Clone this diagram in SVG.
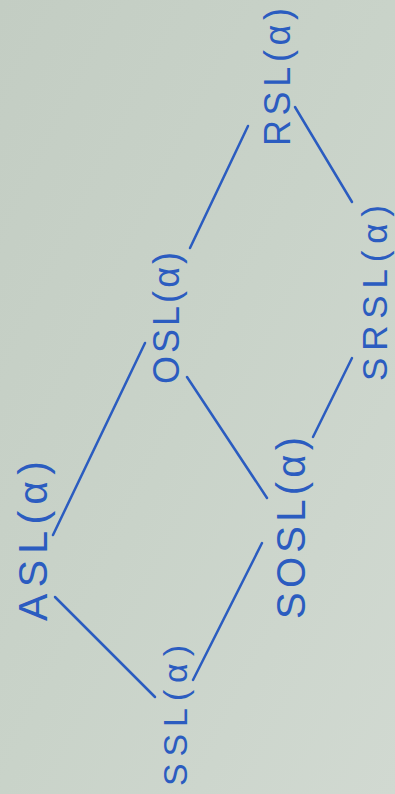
<svg xmlns="http://www.w3.org/2000/svg" width="395" height="794" viewBox="0 0 395 794">
  <defs>
    <linearGradient id="board" x1="0" y1="0" x2="1" y2="1">
      <stop offset="0" stop-color="#c3cdc3"/>
      <stop offset="0.5" stop-color="#c9d3c9"/>
      <stop offset="1" stop-color="#d1d9d1"/>
    </linearGradient>
    <style>
      .lbl { font-family: "Liberation Sans", "DejaVu Sans", sans-serif; fill: #2b5cc0; }
      .edge { stroke: #2b5cc0; stroke-width: 2.5; stroke-linecap: round; fill: none; }
    </style>
  </defs>

  <!-- whiteboard surface -->
  <rect width="395" height="794" fill="url(#board)"/>

  <!-- connectors of the lattice -->
  <g id="connectors">
    <line class="edge" x1="190" y1="248" x2="248" y2="126"/>
    <line class="edge" x1="295" y1="107" x2="352" y2="202"/>
    <line class="edge" x1="145" y1="343" x2="53" y2="535"/>
    <line class="edge" x1="187" y1="377" x2="267" y2="498"/>
    <line class="edge" x1="352" y1="358" x2="313" y2="437"/>
    <line class="edge" x1="55" y1="597" x2="155" y2="697"/>
    <line class="edge" x1="193" y1="680" x2="262" y2="543"/>
  </g>

  <!-- labels, written rotated (reading upwards) -->
  <g id="RSL" transform="translate(290,146) rotate(-90)">
    <text class="lbl" font-size="36" textLength="138" lengthAdjust="spacing">RSL(α)</text>
  </g>
  <g id="OSL" transform="translate(179,384) rotate(-90)">
    <text class="lbl" font-size="36" textLength="132" lengthAdjust="spacing">OSL(α)</text>
  </g>
  <g id="SRSL" transform="translate(387,381) rotate(-90)">
    <text class="lbl" font-size="35" textLength="176" lengthAdjust="spacing">SRSL(α)</text>
  </g>
  <g id="ASL" transform="translate(47,621) rotate(-90)">
    <text class="lbl" font-size="41" textLength="160" lengthAdjust="spacing">ASL(α)</text>
  </g>
  <g id="SOSL" transform="translate(305,619) rotate(-90)">
    <text class="lbl" font-size="40" textLength="182" lengthAdjust="spacing">SOSL(α)</text>
  </g>
  <g id="SSL" transform="translate(187,786) rotate(-90)">
    <text class="lbl" font-size="34" textLength="141" lengthAdjust="spacing">SSL(α)</text>
  </g>
</svg>
